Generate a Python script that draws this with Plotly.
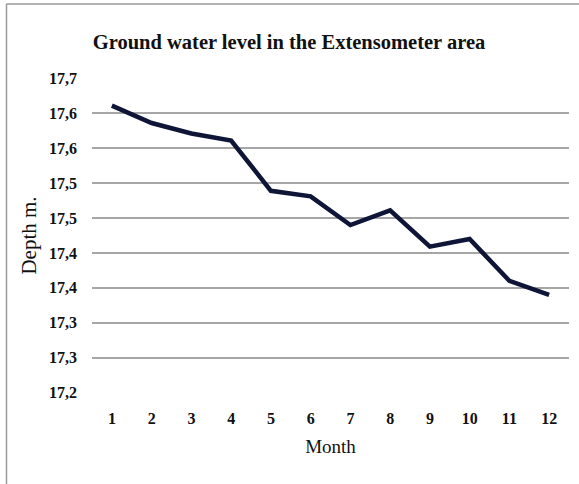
"""
Ground water level in the Extensometer area - line chart
"""

import plotly.graph_objects as go

# data
months = [1, 2, 3, 4, 5, 6, 7, 8, 9, 10, 11, 12]
depth = [17.611, 17.586, 17.571, 17.561, 17.489, 17.481,
         17.440, 17.461, 17.409, 17.420, 17.360, 17.340]

# y ticks (labels rounded to one decimal, as in the original)
y_tickvals = [17.20, 17.25, 17.30, 17.35, 17.40, 17.45, 17.50, 17.55, 17.60, 17.65]
y_ticktext = ["17,2", "17,3", "17,3", "17,4", "17,4", "17,5", "17,5", "17,6", "17,6", "17,7"]

W, H = 579, 484
L, R, T, B = 92, 10, 78, 91
pw, ph = W - L - R, H - T - B

serif = "Liberation Serif, Times New Roman, serif"

fig = go.Figure()

fig.add_trace(go.Scatter(
    x=months,
    y=depth,
    mode='lines',
    line=dict(color='#0e1536', width=4.5),
    showlegend=False
))

# outer chart frame (top and left edges visible in the crop)
fx0 = (6.5 - L) / pw
fy1 = 1 + (T - 4) / ph
fy0 = -(B + 5) / ph
fx1 = (W + 5 - L) / pw
fig.add_shape(type='line', xref='paper', yref='paper',
              x0=fx0, x1=fx0, y0=fy0, y1=fy1,
              line=dict(color='#9a9a9a', width=1.5))
fig.add_shape(type='line', xref='paper', yref='paper',
              x0=fx0, x1=fx1, y0=fy1, y1=fy1,
              line=dict(color='#9a9a9a', width=1.5))

fig.update_layout(
    width=W,
    height=H,
    margin=dict(l=L, r=R, t=T, b=B),
    paper_bgcolor='white',
    plot_bgcolor='white',
    font=dict(family=serif, color='#111111'),
    title=dict(
        text="<b>Ground water level in the Extensometer area</b>",
        x=289 / W, xanchor='center',
        y=1 - 42 / H, yanchor='middle',
        font=dict(family=serif, size=20.5, color='#111111')
    ),
    xaxis=dict(
        range=[0.5, 12.5],
        tickvals=months,
        ticktext=[f"<b>{m}</b>" for m in months],
        tickfont=dict(family=serif, size=16),
        showgrid=False,
        zeroline=False,
        showline=False,
        ticks='',
        ticklabelstandoff=14,
        title=dict(text="Month", font=dict(family=serif, size=19), standoff=13)
    ),
    yaxis=dict(
        range=[17.1995, 17.6505],
        tickvals=y_tickvals,
        ticktext=[f"<b>{t}</b>" for t in y_ticktext],
        tickfont=dict(family=serif, size=16),
        showgrid=True,
        gridcolor='#a6a6a6',
        gridwidth=1.5,
        zeroline=False,
        showline=False,
        ticks='',
        ticklabelstandoff=14,
        title=dict(text="Depth m.", font=dict(family=serif, size=21), standoff=6)
    )
)

# page body has a default 8px margin; drop it so the chart sits at 0,0
fig.write_html("out.html", config={'displayModeBar': False},
               post_script="document.body.style.margin='0';")
